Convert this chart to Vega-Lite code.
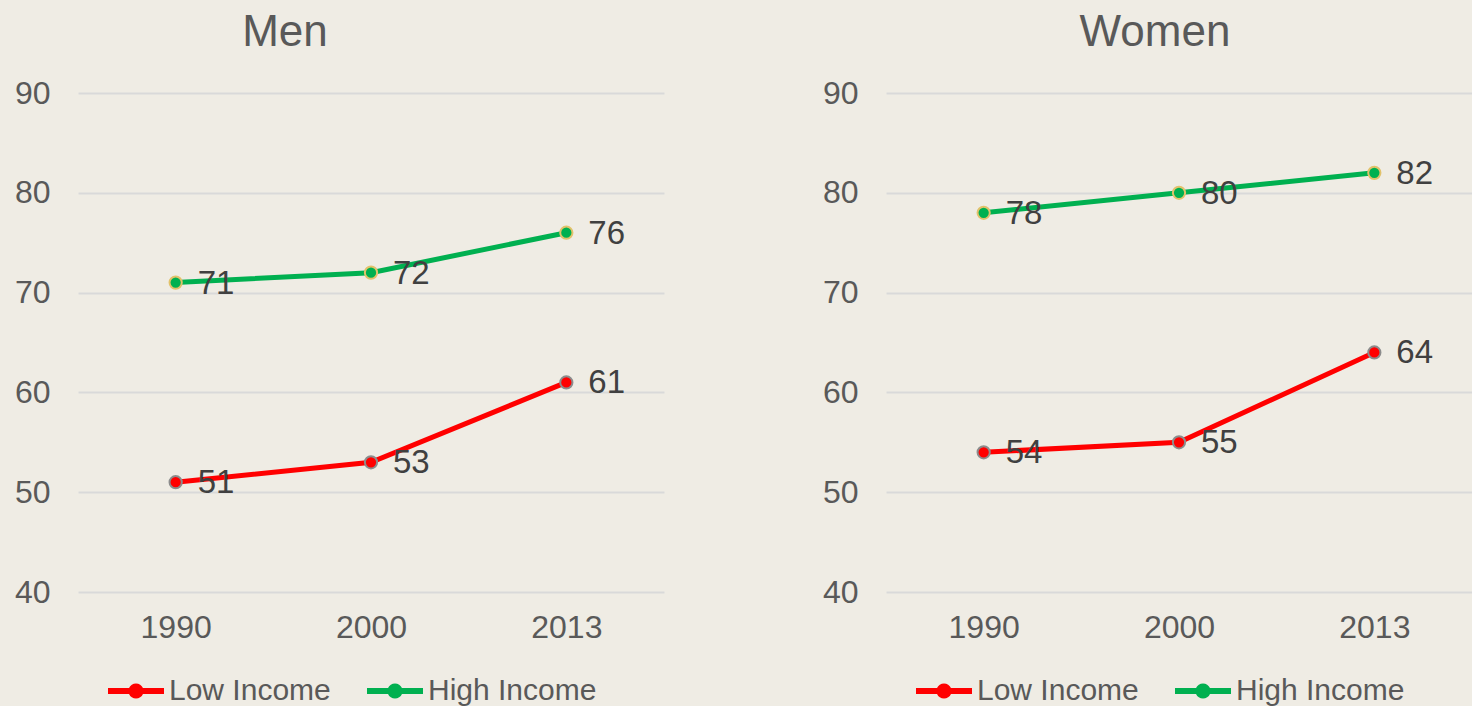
{
  "$schema": "https://vega.github.io/schema/vega-lite/v6.json",
  "background": "#EFECE4",
  "padding": {"left": 14, "top": 11, "right": 0, "bottom": 0},
  "data": {"values": [
    {"sex": "Men", "year": "1990", "income": "Low Income", "value": 51},
    {"sex": "Men", "year": "2000", "income": "Low Income", "value": 53},
    {"sex": "Men", "year": "2013", "income": "Low Income", "value": 61},
    {"sex": "Men", "year": "1990", "income": "High Income", "value": 71},
    {"sex": "Men", "year": "2000", "income": "High Income", "value": 72},
    {"sex": "Men", "year": "2013", "income": "High Income", "value": 76},
    {"sex": "Women", "year": "1990", "income": "Low Income", "value": 54},
    {"sex": "Women", "year": "2000", "income": "Low Income", "value": 55},
    {"sex": "Women", "year": "2013", "income": "Low Income", "value": 64},
    {"sex": "Women", "year": "1990", "income": "High Income", "value": 78},
    {"sex": "Women", "year": "2000", "income": "High Income", "value": 80},
    {"sex": "Women", "year": "2013", "income": "High Income", "value": 82}
  ]},
  "config": {
    "view": {"stroke": null},
    "font": "Liberation Sans",
    "axis": {"labelColor": "#595959", "labelFontSize": 32, "ticks": false, "domain": false, "title": null},
    "title": {"fontSize": 44, "fontWeight": "normal", "color": "#595959", "anchor": "middle", "offset": 22},
    "legend": {"orient": "none", "direction": "horizontal", "title": null, "labelColor": "#595959", "labelFontSize": 30, "labelLimit": 400, "symbolType": "M-1,-0.21H0.5025A0.54,0.54 0 0,1 1.4975,-0.21H3V0.21H1.4975A0.54,0.54 0 0,1 0.5025,0.21H-1Z", "symbolSize": 784, "symbolStrokeWidth": 0, "columnPadding": 35, "labelOffset": 32, "legendX": 29, "legendY": 583}
  },
  "spacing": 158,
  "resolve": {"scale": {"color": "independent"}, "legend": {"color": "independent"}},
  "hconcat": [
    {
      "width": 586, "height": 499,
      "title": {"text": "Men", "dx": -86},
      "transform": [{"filter": "datum.sex === 'Men'"}],
      "encoding": {
        "x": {"field": "year", "type": "ordinal", "axis": {"labelAngle": 0, "labelPadding": 20, "grid": false}},
        "y": {"field": "value", "type": "quantitative", "scale": {"domain": [40, 90], "nice": false, "zero": false}, "axis": {"values": [40, 50, 60, 70, 80, 90], "gridColor": "#D9D9D9", "gridWidth": 2, "labelPadding": 28}},
        "color": {"field": "income", "type": "nominal", "scale": {"domain": ["Low Income", "High Income"], "range": ["#FF0000", "#00B050"]}}
      },
      "layer": [
        {"mark": {"type": "line", "strokeWidth": 5}},
        {"mark": {"type": "point", "filled": true, "size": 150, "strokeWidth": 2, "opacity": 1}, "encoding": {"stroke": {"field": "income", "type": "nominal", "scale": {"domain": ["Low Income", "High Income"], "range": ["#8C8C8C", "#E2C26B"]}, "legend": null}}},
        {"mark": {"type": "text", "align": "left", "baseline": "middle", "dx": 22, "dy": 1, "fontSize": 33}, "encoding": {"text": {"field": "value"}, "color": {"value": "#404040"}}}
      ]
    },
    {
      "width": 586, "height": 499,
      "title": {"text": "Women", "dx": -24},
      "transform": [{"filter": "datum.sex === 'Women'"}],
      "encoding": {
        "x": {"field": "year", "type": "ordinal", "axis": {"labelAngle": 0, "labelPadding": 20, "grid": false}},
        "y": {"field": "value", "type": "quantitative", "scale": {"domain": [40, 90], "nice": false, "zero": false}, "axis": {"values": [40, 50, 60, 70, 80, 90], "gridColor": "#D9D9D9", "gridWidth": 2, "labelPadding": 28}},
        "color": {"field": "income", "type": "nominal", "scale": {"domain": ["Low Income", "High Income"], "range": ["#FF0000", "#00B050"]}}
      },
      "layer": [
        {"mark": {"type": "line", "strokeWidth": 5}},
        {"mark": {"type": "point", "filled": true, "size": 150, "strokeWidth": 2, "opacity": 1}, "encoding": {"stroke": {"field": "income", "type": "nominal", "scale": {"domain": ["Low Income", "High Income"], "range": ["#8C8C8C", "#E2C26B"]}, "legend": null}}},
        {"mark": {"type": "text", "align": "left", "baseline": "middle", "dx": 22, "dy": 1, "fontSize": 33}, "encoding": {"text": {"field": "value"}, "color": {"value": "#404040"}}}
      ]
    }
  ]
}
